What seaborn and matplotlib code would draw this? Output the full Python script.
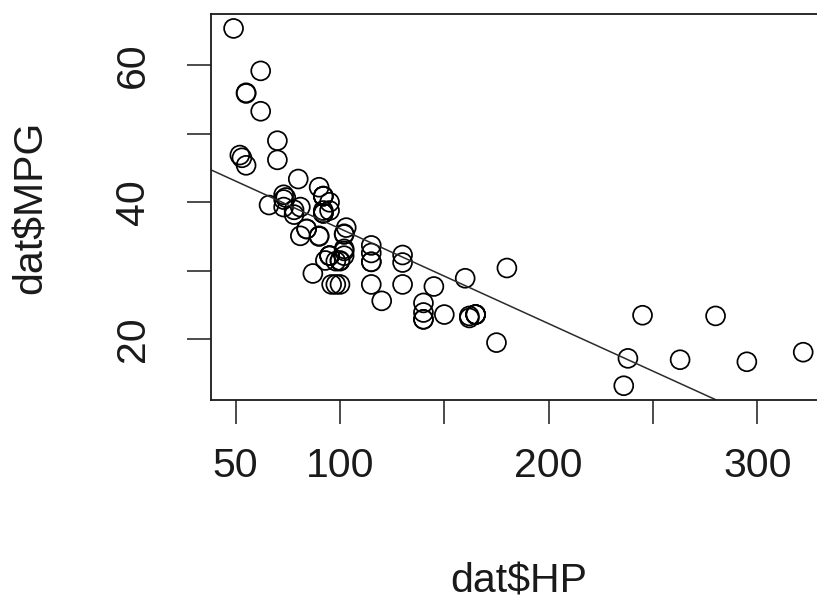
import numpy as np
import pandas as pd
import matplotlib
matplotlib.use('Agg')
import matplotlib.pyplot as plt
import seaborn as sns

# values (HP vs MPG)
hp = [49, 55, 55, 70, 53, 70, 55, 62, 62, 80,
      73, 92, 92, 73, 66, 73, 78, 92, 78, 90,
      92, 74, 95, 81, 95, 92, 92, 92, 52, 103,
      84, 84, 102, 102, 81, 90, 90, 102, 102, 130,
      95, 95, 102, 95, 93, 100, 100, 98, 130, 115,
      115, 115, 115, 180, 160, 130, 96, 115, 100, 98,
      145, 120, 140, 140, 150, 165, 165, 165, 165, 245,
      280, 162, 162, 140, 140, 175, 322, 238, 263, 295,
      236, 87]
mpg = [65.4, 56.0, 55.9, 49.0, 46.5, 46.2, 45.4, 59.2, 53.3, 43.4,
       41.1, 40.9, 40.9, 40.4, 39.6, 39.3, 38.9, 38.8, 38.2, 42.2,
       40.9, 40.7, 40.0, 39.3, 38.8, 38.4, 38.4, 38.4, 46.9, 36.3,
       36.1, 36.1, 35.4, 35.3, 35.1, 35.1, 35.0, 33.2, 32.9, 32.3,
       32.2, 32.2, 32.2, 32.2, 31.5, 31.5, 31.4, 31.4, 31.2, 33.7,
       32.6, 31.3, 31.3, 30.4, 28.9, 28.0, 28.0, 28.0, 28.0, 28.0,
       27.7, 25.6, 25.3, 23.9, 23.6, 23.6, 23.6, 23.6, 23.6, 23.5,
       23.4, 23.4, 23.1, 22.9, 22.9, 19.5, 18.1, 17.2, 17.0, 16.7,
       13.2, 29.6]

x_ticks = [50, 100, 150, 200, 250, 300]
x_tick_labels = ['50', '100', '', '200', '', '300']
y_ticks = [20, 30, 40, 50, 60]
y_tick_labels = ['20', '', '40', '', '60']

dat = pd.DataFrame({'HP': hp, 'MPG': mpg})

sns.set_style('ticks')
plt.rcParams['font.family'] = ['Liberation Sans', 'DejaVu Sans']
ink = '#1a1a1a'

fig = plt.figure(figsize=(8.17, 6.02), dpi=100)
ax = fig.add_axes([0.258, 0.3355, 0.753, 0.641])

# R-style default limits: data range padded by 4%
xr = max(hp) - min(hp)
yr = max(mpg) - min(mpg)
xlim = (min(hp) - 0.04 * xr, max(hp) + 0.04 * xr)
ylim = (min(mpg) - 0.04 * yr, max(mpg) + 0.04 * yr)
ax.set_xlim(*xlim)
ax.set_ylim(*ylim)

sns.scatterplot(data=dat, x='HP', y='MPG', ax=ax, marker='o', s=185,
                facecolor='none', edgecolor='black', linewidth=1.25)
sns.regplot(data=dat, x='HP', y='MPG', ax=ax, scatter=False, ci=None,
            truncate=False, line_kws={'color': '#2b2b2b', 'linewidth': 1.1})

ax.set_xlim(*xlim)
ax.set_ylim(*ylim)

ax.set_xticks(x_ticks, labels=x_tick_labels)
ax.set_yticks(y_ticks, labels=y_tick_labels)
ax.tick_params(axis='both', direction='out', length=17.5, width=1.1,
               colors=ink, labelsize=29.5, labelcolor=ink,
               bottom=True, left=True, top=False, right=False)
ax.tick_params(axis='x', pad=16)
ax.tick_params(axis='y', pad=25)
for lab in ax.get_yticklabels():
    lab.set_rotation(90)
    lab.set_va('center')

for sp in ax.spines.values():
    sp.set_visible(True)
    sp.set_color(ink)
    sp.set_linewidth(1.3)

ax.set_xlabel('dat$HP', fontsize=29.5, color=ink)
ax.set_ylabel('dat$MPG', fontsize=29.5, color=ink)
ax.xaxis.label.set_va('center')
ax.yaxis.label.set_va('center')
ax.xaxis.set_label_coords(0.5, -0.4715)
ax.yaxis.set_label_coords(-0.292, 0.5)

fig.savefig('out.png', dpi=100, facecolor='white')
